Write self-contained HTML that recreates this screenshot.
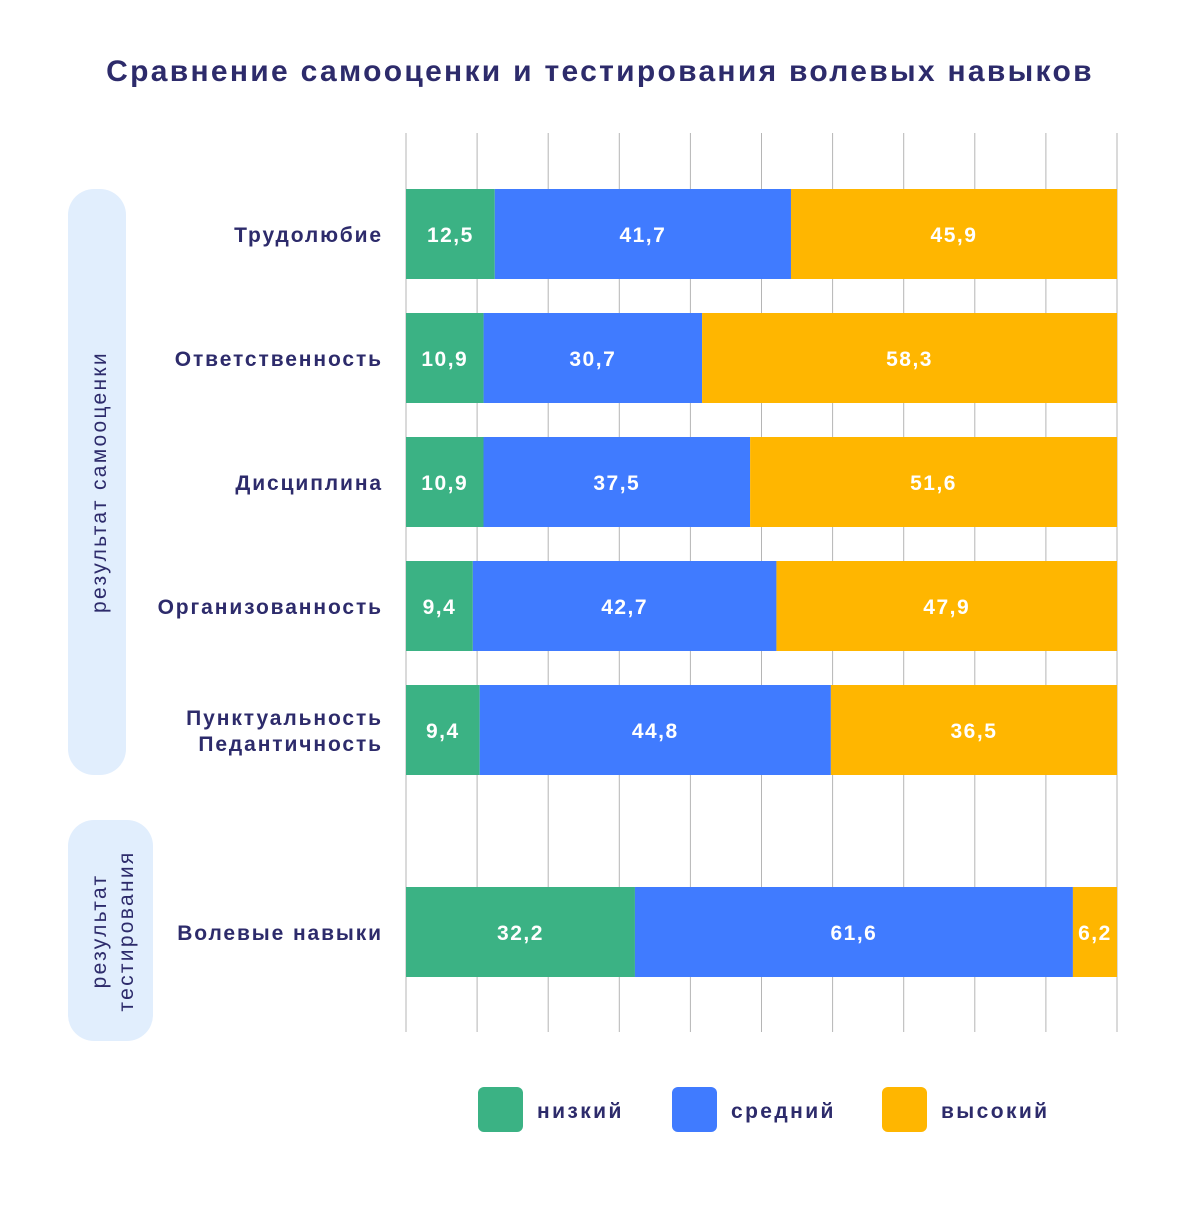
<!DOCTYPE html>
<html><head><meta charset="utf-8">
<style>
html,body{margin:0;padding:0;background:#fff;}
body{width:1185px;height:1200px;overflow:hidden;font-family:"Liberation Sans","Noto Sans CJK SC",sans-serif;}
svg text{font-family:"Liberation Sans","Noto Sans CJK SC",sans-serif;}
</style></head>
<body>
<svg id="chart" width="1185" height="1200" xmlns="http://www.w3.org/2000/svg">
<text x="600" y="81" text-anchor="middle" font-size="30" font-weight="bold" letter-spacing="2.3" fill="#2d2b6b">Сравнение самооценки и тестирования волевых навыков</text>
<rect x="68" y="189" width="58" height="586" rx="26" fill="#e1eefd"/>
<text transform="translate(106,482) rotate(-90)" text-anchor="middle" font-size="21" letter-spacing="2.3" fill="#2d2b6b">результат самооценки</text>
<rect x="68" y="820" width="85" height="221" rx="26" fill="#e1eefd"/>
<text transform="translate(106,931) rotate(-90)" text-anchor="middle" font-size="21" letter-spacing="2.3" fill="#2d2b6b">результат</text>
<text transform="translate(133,931) rotate(-90)" text-anchor="middle" font-size="21" letter-spacing="2.3" fill="#2d2b6b">тестирования</text>
<g id="grid"></g>
<g id="bars"></g>
<g id="legend"></g>
</svg>
<script>
const categories = [["Трудолюбие"],["Ответственность"],["Дисциплина"],["Организованность"],["Пунктуальность","Педантичность"],["Волевые навыки"]];
const lowValues = [12.5,10.9,10.9,9.4,9.4,32.2];
const midValues = [41.7,30.7,37.5,42.7,44.8,61.6];
const highValues = [45.9,58.3,51.6,47.9,36.5,6.2];
const seriesNames = ["низкий","средний","высокий"];
const gridTicks = [0,10,20,30,40,50,60,70,80,90,100];

const NS="http://www.w3.org/2000/svg";
const X0=406, X1=1117;
const xScale = v => X0 + (X1-X0)*v/100;
const rowTops = [189,313,437,561,685,887];
const BAR_H=90;
const colors=["#3bb284","#407bff","#ffb600"];
function mk(tag,attrs,parent){const e=document.createElementNS(NS,tag);for(const k in attrs)e.setAttribute(k,attrs[k]);parent.appendChild(e);return e;}
const grid=document.getElementById('grid'), bars=document.getElementById('bars'), legend=document.getElementById('legend');
gridTicks.forEach(t=>{
  const l=mk('line',{x1:xScale(t),x2:xScale(t),y1:133,y2:1032,stroke:'#b5b5b5','stroke-width':1},grid);
  
  
});
const fmt=v=>v.toFixed(1).replace('.',',');
categories.forEach((cat,i)=>{
  const vals=[lowValues[i],midValues[i],highValues[i]];
  const sum=vals.reduce((a,b)=>a+b,0);
  let acc=0;
  const y=rowTops[i];
  vals.forEach((v,s)=>{
    const xa=xScale(acc/sum*100), xb=xScale((acc+v)/sum*100);
    acc+=v;
    const r=mk('rect',{x:xa,y:y,width:xb-xa,height:BAR_H,fill:colors[s]},bars);
    
    
    const t=mk('text',{x:(xa+xb)/2,y:y+BAR_H/2+8,'text-anchor':'middle','font-size':21,'font-weight':'bold','letter-spacing':1.5,fill:'#fff'},bars);
    t.textContent=fmt(v);
    
    
  });
  cat.forEach((line,j)=>{
    const off = cat.length===1 ? 8 : (j===0 ? -5 : 21);
    const t=mk('text',{x:383,y:y+BAR_H/2+off,'text-anchor':'end','font-size':21,'font-weight':'bold','letter-spacing':1.9,fill:'#2d2b6b'},bars);
    t.textContent=line;
    
    
  });
});
const legX=[478,672,882];
seriesNames.forEach((n,s)=>{
  const r=mk('rect',{x:legX[s],y:1087,width:45,height:45,rx:6,fill:colors[s]},legend);
  
  
  const t=mk('text',{x:legX[s]+59,y:1118,'font-size':21,'font-weight':'bold','letter-spacing':2.4,fill:'#2d2b6b'},legend);
  t.textContent=n;
  
  
});
</script>
</body></html>
